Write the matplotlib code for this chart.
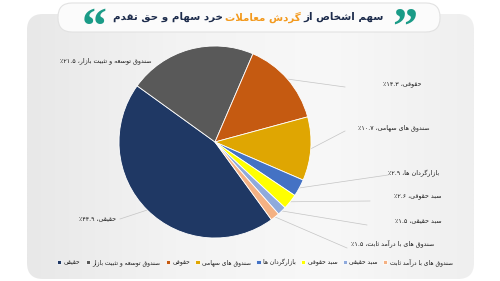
import matplotlib
matplotlib.use('Agg')
import matplotlib.pyplot as plt
import numpy as np
from matplotlib.patches import FancyBboxPatch

plt.rcParams['font.family'] = ['DejaVu Sans']

# data
names = ['حقیقی', 'صندوق توسعه و تثبیت بازار', 'حقوقی', 'صندوق های سهامی',
         'بازارگردان ها', 'سبد حقوقی', 'سبد حقیقی', 'صندوق های با درآمد ثابت']
shares = [44.9, 21.5, 14.3, 10.7, 2.9, 2.6, 1.5, 1.5]
colors = ['#1f3864', '#595959', '#c55a11', '#dfa602',
          '#4472c4', '#ffff00', '#8faadc', '#f4b183']
title_right = 'سهم اشخاص از'
title_mid = 'گردش معاملات'
title_left = 'خرد سهام و حق تقدم'

# --- minimal Persian shaping (matplotlib has no bidi / joining) ---
DUAL = {'ب': 0xFE8F, 'پ': 0xFB56, 'ت': 0xFE95, 'ث': 0xFE99, 'ج': 0xFE9D, 'چ': 0xFB7A,
        'ح': 0xFEA1, 'خ': 0xFEA5, 'س': 0xFEB1, 'ش': 0xFEB5, 'ص': 0xFEB9, 'ض': 0xFEBD,
        'ط': 0xFEC1, 'ظ': 0xFEC5, 'ع': 0xFEC9, 'غ': 0xFECD, 'ف': 0xFED1, 'ق': 0xFED5,
        'ک': 0xFB8E, 'گ': 0xFB92, 'ل': 0xFEDD, 'م': 0xFEE1, 'ن': 0xFEE5, 'ه': 0xFEE9,
        'ی': 0xFBFC}
RIGHT = {'ا': 0xFE8D, 'آ': 0xFE81, 'د': 0xFEA9, 'ذ': 0xFEAB, 'ر': 0xFEAD, 'ز': 0xFEAF,
         'ژ': 0xFB8A, 'و': 0xFEED}
DIGITS = '۰۱۲۳۴۵۶۷۸۹0123456789.'


def shape(s):
    out = []
    i = 0
    while i < len(s):
        c = s[i]
        prev = s[i - 1] if i else ''
        nxt = s[i + 1] if i + 1 < len(s) else ''
        jp = prev in DUAL
        if c == 'ل' and nxt in ('ا', 'آ'):
            base = 0xFEFB if nxt == 'ا' else 0xFEF5
            out.append(chr(base + (1 if jp else 0)))
            i += 2
            continue
        if c in DUAL:
            jn = nxt in DUAL or nxt in RIGHT
            k = {(0, 0): 0, (1, 0): 1, (0, 1): 2, (1, 1): 3}[(int(jp), int(jn))]
            out.append(chr(DUAL[c] + k))
        elif c in RIGHT:
            out.append(chr(RIGHT[c] + (1 if jp else 0)))
        else:
            out.append(c)
        i += 1
    return out


def fa(s):
    chars = shape(s)[::-1]
    res, run = [], []
    for ch in chars:
        if ch in DIGITS:
            run.append(ch)
        else:
            res.extend(run[::-1])
            run = []
            res.append(ch)
    res.extend(run[::-1])
    return ''.join(res)


def fa_num(v):
    return f'{v:.1f}'.translate(str.maketrans('0123456789', '۰۱۲۳۴۵۶۷۸۹'))


W, H = 500, 281
fig = plt.figure(figsize=(5, 2.81), dpi=100)
ax = fig.add_axes([0, 0, 1, 1])
ax.set_xlim(0, W)
ax.set_ylim(0, H)
ax.set_aspect('equal')
ax.axis('off')


def Y(y):
    return H - y


# background panel with soft gradient
panel = FancyBboxPatch((27, Y(279)), 447, 265, boxstyle='round,pad=0,rounding_size=16',
                       fc='none', ec='none', zorder=0)
ax.add_patch(panel)
grad = np.linspace(0, 1, 256)[None, :]
img = ax.imshow(grad, extent=[27, 474, Y(279), Y(14)], cmap=matplotlib.colors.LinearSegmentedColormap.from_list(
    'g', ['#e8e8e8', '#f3f3f3', '#f8f8f8', '#efefef']), aspect='auto', zorder=0)
img.set_clip_path(panel)

# title pill
pill = FancyBboxPatch((58, Y(32)), 382, 29, boxstyle='round,pad=0,rounding_size=14',
                      fc='#fbfbfb', ec='#e2e2e2', lw=0.8, zorder=1)
ax.add_patch(pill)

# title pieces laid out right-to-left
r = fig.canvas.get_renderer()
ty = Y(17)
x = 384
for txt, col in [(title_right, '#1c2b4b'), (title_mid, '#f39a1e'), (title_left, '#1c2b4b')]:
    t = ax.text(x, ty, fa(txt), ha='right', va='center', fontsize=7.4,
                fontweight='bold', color=col, zorder=3)
    bb = t.get_window_extent(renderer=r)
    x -= bb.width * W / fig.bbox.width + 2.5

# quote marks
qfont = dict(fontsize=36, fontweight='bold', family='Liberation Serif',
             color='#1a9b87', zorder=3, clip_on=False)
ax.text(405, Y(42), '”', ha='center', va='baseline', **qfont)
ax.text(94, Y(42), '“', ha='center', va='baseline', **qfont)

# pie
cx, cy, rad = 215, Y(142), 96
wedges, _ = ax.pie(shares, colors=colors, startangle=-54, counterclock=False,
                   center=(cx, cy), radius=rad, frame=True,
                   wedgeprops=dict(edgecolor='white', linewidth=0.6))
ax.set_xlim(0, W)
ax.set_ylim(0, H)
ax.axis('off')
for w in wedges:
    w.set_zorder(2)

# data labels with leader lines
label_pos = [(98, 220), (106, 61), (402, 84), (394, 128),
             (414, 173), (418, 197), (418, 221), (393, 243)]
line_end = [(120, 219), None, (345, 87), (345, 131),
            (388, 175), (370, 201), (367, 225), (347, 248)]
for i, w in enumerate(wedges):
    ang = np.deg2rad((w.theta1 + w.theta2) / 2)
    px, py = cx + rad * np.cos(ang), cy + rad * np.sin(ang)
    lx, ly = label_pos[i]
    ax.text(lx, Y(ly), fa(f'{names[i]}، {fa_num(shares[i])}٪'), ha='center', va='center',
            fontsize=4.6, color='#1a1a1a', zorder=4)
    if line_end[i] is not None:
        ex, ey = line_end[i]
        ax.plot([px, ex], [py, Y(ey)], color='#c4c4c4', lw=0.5, zorder=1.5)

# legend
leg = ax.legend(wedges, [fa(n) for n in names], ncol=8, loc='center',
                bbox_to_anchor=(255 / W, 1 - 262 / H), bbox_transform=fig.transFigure,
                frameon=False, fontsize=4.3, handlelength=0.7, handleheight=0.7,
                handletextpad=0.4, columnspacing=0.9)
for t in leg.get_texts():
    t.set_color('#1a1a1a')

fig.savefig('out.png', dpi=100)
